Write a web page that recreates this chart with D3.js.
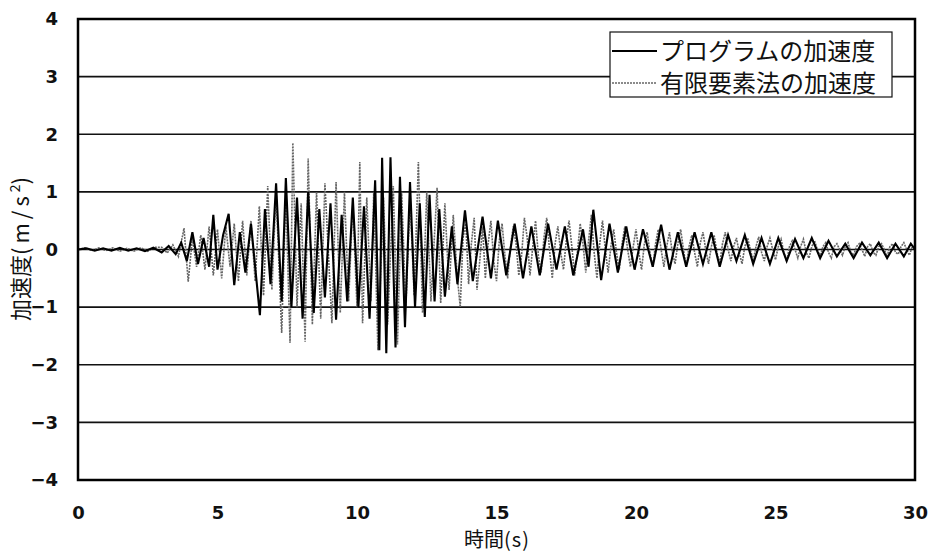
<!DOCTYPE html>
<html>
<head>
<meta charset="utf-8">
<script src="https://cdn.jsdelivr.net/npm/d3@7/dist/d3.min.js"></script>
<style>
  html, body { margin: 0; padding: 0; background: #fff; }
  svg { display: block; }
</style>
</head>
<body>
<svg id="chart" width="933" height="554"></svg>
<script>
// Acceleration time histories: [time (s), acceleration (m/s²)]
const programAccel = [
  [0,0],[0.3,0.02],[0.6,-0.02],[0.9,0.02],[1.2,-0.02],[1.5,0.03],[1.8,-0.02],[2.1,0.02],
  [2.4,-0.03],[2.7,0.03],[3.0,-0.05],[3.25,0.06],[3.5,-0.08],[3.7,0.12],[3.9,-0.2],[4.1,0.3],
  [4.3,-0.25],[4.5,0.2],[4.7,-0.3],[4.85,0.6],[5.0,-0.35],[5.2,0.25],[5.4,0.62],[5.6,-0.62],
  [5.8,0.3],[6.0,-0.4],[6.2,0.45],[6.35,-0.3],[6.52,-1.14],[6.7,0.7],[6.9,-0.6],[7.1,1.15],
  [7.3,-0.9],[7.45,1.24],[7.65,-1.0],[7.85,0.9],[8.05,-1.2],[8.25,1.0],[8.45,-1.1],[8.65,0.7],
  [8.85,-0.83],[9.05,0.8],[9.25,-1.22],[9.45,0.6],[9.65,-0.9],[9.85,0.9],[10.05,-1.0],[10.25,0.75],
  [10.45,-1.2],[10.65,1.2],[10.8,-1.75],[10.9,1.59],[11.05,-1.8],[11.2,1.6],[11.38,-1.7],[11.54,1.26],
  [11.72,-1.35],[11.9,1.17],[12.08,-1.0],[12.25,0.8],[12.43,-1.17],[12.6,0.95],[12.78,-0.9],[12.95,0.7],
  [13.15,-0.82],[13.4,0.4],[13.6,-0.6],[13.87,0.68],[14.15,-0.55],[14.5,0.57],[14.8,-0.5],[15.05,0.5],
  [15.35,-0.45],[15.65,0.45],[15.95,-0.5],[16.25,0.4],[16.55,-0.45],[16.85,0.45],[17.15,-0.35],[17.45,0.4],
  [17.75,-0.45],[18.1,0.35],[18.3,-0.3],[18.47,0.69],[18.75,-0.53],[19.05,0.45],[19.35,-0.4],[19.65,0.4],
  [19.95,-0.35],[20.25,0.35],[20.6,-0.3],[20.9,0.43],[21.2,-0.35],[21.5,0.3],[21.8,-0.3],[22.1,0.3],
  [22.4,-0.25],[22.7,0.3],[23.0,-0.3],[23.3,0.25],[23.6,-0.2],[23.9,0.25],[24.2,-0.25],[24.5,0.2],
  [24.8,-0.25],[25.1,0.2],[25.4,-0.2],[25.7,0.18],[26.0,-0.15],[26.3,0.2],[26.6,-0.15],[26.9,0.15],
  [27.2,-0.12],[27.5,0.1],[27.8,-0.15],[28.1,0.12],[28.4,-0.1],[28.7,0.12],[29.0,-0.15],[29.3,0.1],
  [29.6,-0.12],[29.85,0.1],[30,0]
];

const femAccel = [
  [0,0],[0.25,0.03],[0.5,-0.02],[0.75,0.03],[1.0,-0.02],[1.25,0.03],[1.5,-0.03],[1.75,0.02],
  [2.0,-0.03],[2.25,0.03],[2.5,-0.03],[2.75,0.04],[3.0,0.04],[3.2,-0.06],[3.4,0.08],[3.6,-0.12],
  [3.8,0.37],[3.95,-0.56],[4.1,0.2],[4.25,-0.3],[4.4,0.25],[4.55,-0.35],[4.7,0.4],[4.85,-0.45],
  [5.0,0.35],[5.15,-0.5],[5.3,0.4],[5.45,-0.3],[5.6,0.45],[5.75,-0.55],[5.9,0.5],[6.05,-0.45],
  [6.2,0.5],[6.35,-0.55],[6.5,0.75],[6.65,-0.8],[6.8,1.1],[6.95,-0.7],[7.1,1.0],[7.3,-1.45],
  [7.45,0.95],[7.6,-1.62],[7.7,1.85],[7.85,-1.0],[8.0,0.8],[8.14,-1.6],[8.25,1.58],[8.4,-1.3],
  [8.55,1.0],[8.7,-1.2],[8.85,1.15],[9.1,-1.28],[9.25,1.17],[9.4,-1.1],[9.55,1.0],[9.7,-0.9],
  [9.85,0.8],[10.0,-1.0],[10.1,1.52],[10.2,-1.28],[10.35,0.9],[10.5,-0.9],[10.6,1.0],[10.75,-1.75],
  [10.95,0.9],[11.1,-1.3],[11.3,1.1],[11.45,-1.65],[11.6,1.0],[11.75,-1.0],[11.9,0.9],[12.05,-0.8],
  [12.2,1.52],[12.35,-1.1],[12.5,1.0],[12.65,-0.9],[12.87,1.07],[13.0,-0.93],[13.15,0.8],[13.3,-0.7],
  [13.45,0.6],[13.6,-0.5],[13.7,-1.0],[13.8,0.2],[13.9,0.45],[14.0,-0.6],[14.1,0.1],[14.2,0.55],
  [14.3,-0.7],[14.4,-0.2],[14.5,0.4],[14.6,-0.5],[14.7,0.1],[14.8,0.5],[14.9,-0.2],[15.0,-0.55],
  [15.1,0.15],[15.2,0.45],[15.3,-0.1],[15.4,-0.5],[15.5,0.05],[15.6,0.4],[15.7,0.1],[15.8,-0.45],
  [15.9,-0.1],[16.0,0.55],[16.1,0.2],[16.2,-0.45],[16.3,0.05],[16.4,0.5],[16.5,-0.1],[16.6,-0.4],
  [16.7,0.2],[16.8,0.55],[16.9,0.0],[17.0,-0.5],[17.1,0.1],[17.2,0.4],[17.3,-0.05],[17.4,-0.35],
  [17.5,0.15],[17.6,0.5],[17.7,0.05],[17.8,-0.45],[17.9,-0.05],[18.0,0.45],[18.1,0.1],[18.2,-0.4],
  [18.3,0.15],[18.4,0.6],[18.5,-0.05],[18.6,-0.5],[18.7,0.1],[18.8,0.5],[18.9,0.0],[19.0,-0.4],
  [19.1,0.05],[19.2,0.35],[19.3,-0.05],[19.4,-0.35],[19.5,0.1],[19.6,0.4],[19.7,0.0],[19.8,-0.3],
  [19.9,0.05],[20.0,0.35],[20.1,-0.05],[20.2,-0.35],[20.3,0.1],[20.4,0.3],[20.5,-0.05],[20.6,-0.3],
  [20.7,0.1],[20.8,0.35],[20.9,0.0],[21.0,-0.3],[21.1,0.05],[21.2,0.3],[21.3,-0.05],[21.4,-0.25],
  [21.5,0.1],[21.6,0.35],[21.7,0.0],[21.8,-0.3],[21.9,0.05],[22.0,0.25],[22.1,-0.05],[22.2,-0.3],
  [22.3,0.1],[22.4,0.3],[22.5,0.0],[22.6,-0.25],[22.7,0.05],[22.8,0.25],[22.9,-0.05],[23.0,-0.25],
  [23.1,0.1],[23.2,0.3],[23.3,0.0],[23.4,-0.2],[23.5,0.05],[23.6,0.2],[23.7,-0.05],[23.8,-0.25],
  [23.9,0.05],[24.0,0.2],[24.1,0.0],[24.2,-0.2],[24.3,0.05],[24.4,0.22],[24.5,-0.05],[24.6,-0.2],
  [24.7,0.05],[24.8,0.2],[24.9,0.0],[25.0,-0.18],[25.1,0.05],[25.2,0.18],[25.3,-0.05],[25.4,-0.2],
  [25.5,0.05],[25.6,0.15],[25.7,0.0],[25.8,-0.15],[25.9,0.05],[26.0,0.18],[26.1,-0.05],[26.2,-0.15],
  [26.3,0.05],[26.4,0.15],[26.5,0.0],[26.6,-0.12],[26.7,0.05],[26.8,0.12],[26.9,-0.05],[27.0,-0.15],
  [27.1,0.05],[27.2,0.1],[27.3,0.0],[27.4,-0.1],[27.5,0.05],[27.6,0.12],[27.7,-0.05],[27.8,-0.1],
  [27.9,0.05],[28.0,0.1],[28.1,0.0],[28.2,-0.12],[28.3,0.05],[28.4,0.1],[28.5,-0.05],[28.6,-0.1],
  [28.7,0.05],[28.8,0.1],[28.9,0.0],[29.0,-0.12],[29.1,0.05],[29.2,0.1],[29.3,-0.05],[29.4,-0.08],
  [29.5,0.05],[29.6,0.12],[29.7,0.0],[29.8,-0.1],[29.9,0.05],[30,0.05]
];

const xTicks = [0, 5, 10, 15, 20, 25, 30];
const yTicks = [-4, -3, -2, -1, 0, 1, 2, 3, 4];
const seriesNames = ["プログラムの加速度", "有限要素法の加速度"];

const margin = { top: 19, right: 18, bottom: 74, left: 78 };
const W = 933, H = 554;
const innerW = W - margin.left - margin.right;
const innerH = H - margin.top - margin.bottom;

const svg = d3.select("#chart");
svg.append("rect").attr("width", W).attr("height", H).attr("fill", "#fff");

const g = svg.append("g").attr("transform", `translate(${margin.left},${margin.top})`);

const x = d3.scaleLinear().domain([0, 30]).range([0, innerW]);
const y = d3.scaleLinear().domain([-4, 4]).range([innerH, 0]);

// horizontal grid lines
g.append("g")
  .selectAll("line")
  .data(yTicks.filter(v => v > -4 && v < 4))
  .join("line")
  .attr("x1", 0).attr("x2", innerW)
  .attr("y1", d => y(d)).attr("y2", d => y(d))
  .attr("stroke", "#111").attr("stroke-width", 1.6);

const line = d3.line().x(d => x(d[0])).y(d => y(d[1]));

// finite element result (dotted grey)
g.append("path")
  .datum(femAccel)
  .attr("d", line)
  .attr("fill", "none")
  .attr("stroke", "#666")
  .attr("stroke-width", 1.6)
  .attr("stroke-dasharray", "2,1");

// program result (solid black)
g.append("path")
  .datum(programAccel)
  .attr("d", line)
  .attr("fill", "none")
  .attr("stroke", "#000")
  .attr("stroke-width", 2.1);

// plot frame
g.append("rect")
  .attr("width", innerW).attr("height", innerH)
  .attr("fill", "none").attr("stroke", "#000").attr("stroke-width", 2.5);

const tickFont = "'DejaVu Sans', 'Liberation Sans', sans-serif";

// axes
const yAxis = g.append("g")
  .call(d3.axisLeft(y).tickValues(yTicks).tickSize(0).tickPadding(20).tickFormat(d3.format("d")));
yAxis.select(".domain").remove();
yAxis.selectAll("text")
  .attr("font-family", tickFont).attr("font-size", 18).attr("font-weight", "bold").attr("fill", "#111");

const xAxis = g.append("g")
  .attr("transform", `translate(0,${innerH})`)
  .call(d3.axisBottom(x).tickValues(xTicks).tickSize(0).tickPadding(26).tickFormat(d3.format("d")));
xAxis.select(".domain").remove();
xAxis.selectAll("text")
  .attr("font-family", tickFont).attr("font-size", 18).attr("font-weight", "bold").attr("fill", "#111");

const cjkFont = "'Noto Sans CJK JP', 'Noto Sans', sans-serif";

// axis titles
const xTitle = svg.append("text")
  .attr("x", 497).attr("y", 547)
  .attr("text-anchor", "middle")
  .attr("font-family", cjkFont).attr("font-size", 20).attr("fill", "#111");
xTitle.append("tspan").text("時間");
xTitle.append("tspan").attr("letter-spacing", 1).text("(s)");

const yTitle = svg.append("text")
  .attr("transform", "translate(29,249) rotate(-90)")
  .attr("text-anchor", "middle")
  .attr("font-family", cjkFont).attr("font-size", 22).attr("fill", "#111");
yTitle.append("tspan").text("加速度");
yTitle.append("tspan").attr("letter-spacing", 4).text("(m/s");
yTitle.append("tspan").attr("font-size", 14).attr("dy", -9).text("2");
yTitle.append("tspan").attr("dy", 9).text(")");

// legend
const legend = svg.append("g");
legend.append("rect")
  .attr("x", 610).attr("y", 32).attr("width", 282).attr("height", 65)
  .attr("fill", "#fff").attr("stroke", "#111").attr("stroke-width", 1.2);

const legendRows = [
  { name: seriesNames[0], stroke: "#000", dash: null, width: 2, cy: 51 },
  { name: seriesNames[1], stroke: "#666", dash: "2,1", width: 1.6, cy: 83 }
];
legendRows.forEach(r => {
  legend.append("line")
    .attr("x1", 612).attr("x2", 657).attr("y1", r.cy).attr("y2", r.cy)
    .attr("stroke", r.stroke).attr("stroke-width", r.width)
    .attr("stroke-dasharray", r.dash);
  legend.append("text")
    .attr("x", 660).attr("y", r.cy + 9)
    .attr("font-family", cjkFont).attr("font-size", 24).attr("fill", "#111")
    .text(r.name);
});
</script>
</body>
</html>
